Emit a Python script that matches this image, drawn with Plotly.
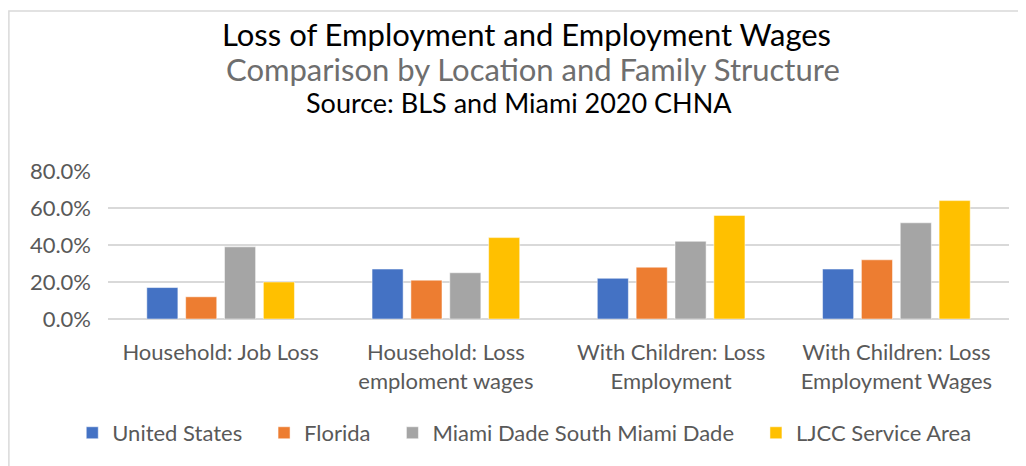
import plotly.graph_objects as go

# Data
categories = [
    "Household: Job Loss",
    "Household: Loss<br>emploment wages",
    "With Children: Loss<br>Employment",
    "With Children: Loss<br>Employment Wages",
]
united_states = [0.17, 0.27, 0.22, 0.27]
florida = [0.12, 0.21, 0.28, 0.32]
miami_dade = [0.39, 0.25, 0.42, 0.52]
ljcc = [0.20, 0.44, 0.56, 0.64]

series_names = ["United States", "Florida", "Miami Dade South Miami Dade", "LJCC Service Area"]
series_values = [united_states, florida, miami_dade, ljcc]
colors = ["#4472C4", "#ED7D31", "#A5A5A5", "#FFC000"]

FONT = "Lato, 'Open Sans', sans-serif"
GREY = "#595959"
PAD = "\u00a0" * 3  # extra room between legend entries

fig = go.Figure()
for i, (name, vals, col) in enumerate(zip(series_names, series_values, colors)):
    label = name + PAD if i < len(series_names) - 1 else name
    fig.add_trace(
        go.Bar(
            x=categories,
            y=vals,
            name=label,
            marker=dict(color=col, line=dict(color="white", width=0.5)),
        )
    )

fig.update_layout(
    width=1026,
    height=466,
    barmode="group",
    bargap=0.31,
    bargroupgap=0.2,
    plot_bgcolor="white",
    paper_bgcolor="white",
    margin=dict(l=100, r=25, t=163, b=155),
    font=dict(family=FONT, size=22, color=GREY),
    showlegend=True,
    legend=dict(
        orientation="h",
        x=0.462,
        xanchor="center",
        y=-0.77,
        yanchor="middle",
        font=dict(size=22, color=GREY),
        itemwidth=30,
        traceorder="normal",
    ),
    xaxis=dict(
        showgrid=False,
        showline=False,
        ticks="",
        ticklabelstandoff=18,
        tickfont=dict(size=22, color=GREY),
    ),
    yaxis=dict(
        range=[0, 0.8],
        dtick=0.2,
        tickformat=".1%",
        showgrid=True,
        gridcolor="#D9D9D9",
        gridwidth=1.5,
        zeroline=True,
        zerolinecolor="#D9D9D9",
        zerolinewidth=1.5,
        ticks="",
        ticklabelstandoff=16,
        tickfont=dict(size=22, color=GREY),
    ),
)

# title lines
fig.add_annotation(
    text="Loss of Employment and Employment Wages",
    xref="paper", yref="paper", x=0.465, y=1.923,
    xanchor="center", yanchor="middle", showarrow=False,
    font=dict(family=FONT, size=31, color="black"),
)
fig.add_annotation(
    text="Comparison by Location and Family Structure",
    xref="paper", yref="paper", x=0.472, y=1.69,
    xanchor="center", yanchor="middle", showarrow=False,
    font=dict(family=FONT, size=31, color="#6E6E6E"),
)
fig.add_annotation(
    text="Source: BLS and Miami 2020 CHNA",
    xref="paper", yref="paper", x=0.456, y=1.46,
    xanchor="center", yanchor="middle", showarrow=False,
    font=dict(family=FONT, size=27, color="black"),
)

# chart border
fig.add_shape(
    type="rect", xref="paper", yref="paper",
    x0=-0.110, y0=-1.3, x1=1.1, y1=2.081,
    line=dict(color="#D9D9D9", width=1.5),
)

fig.write_html("out.html")
